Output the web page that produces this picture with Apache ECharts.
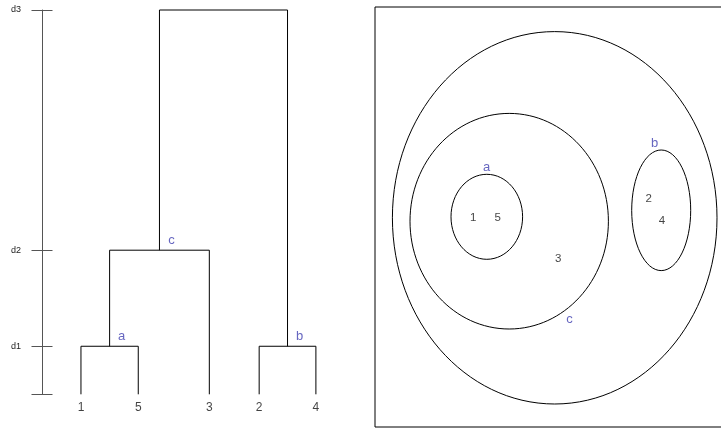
<!DOCTYPE html>
<html>
<head>
<meta charset="utf-8">
<script src="https://cdn.jsdelivr.net/npm/echarts@6/dist/echarts.min.js"></script>
<style>html,body{margin:0;padding:0;background:#fff;}#c{width:721px;height:428px;}</style>
</head>
<body>
<div id="c"></div>
<script>
// ---- Dendrogram data ----
const leafNames = ['1', '5', '3', '2', '4'];
const leafX = [1, 2, 3.24, 4.11, 5.1];
const mergeNames = ['a', 'b', 'c', 'top'];
const mergeChildren = [['1', '5'], ['2', '4'], ['a', '3'], ['c', 'b']];
const mergeHeights = [1, 1, 3, 8];
const heightTicks = [0, 1, 3, 8];
const heightLabelValues = [1, 3, 8];
const heightLabels = ['d1', 'd2', 'd3'];

// ---- Nested cluster (ellipse) data: [cx, cy, rx, ry] in panel units ----
const ellipseNames = ['outer', 'c', 'a', 'b'];
const ellipseCx = [179.7, 134.2, 111.8, 286.2];
const ellipseCy = [209.2, 205.8, 210.2, 216.7];
const ellipseRx = [162.3, 99.2, 35.8, 29.5];
const ellipseRy = [186.2, 107.8, 42.5, 60.3];
const pointNames = ['1', '5', '3', '2', '4'];
const pointX = [98.3, 122.7, 183.3, 273.7, 287];
const pointY = [208.7, 208.7, 167.7, 228, 206];
const clusterLabelNames = ['a', 'b', 'c'];
const clusterLabelX = [111.7, 279.7, 194.5];
const clusterLabelY = [259.3, 283.7, 108];

// ---- build tree node positions ----
const nodePos = {};
leafNames.forEach((n, i) => { nodePos[n] = [leafX[i], 0]; });
const segData = [];
mergeNames.forEach((n, i) => {
  const l = nodePos[mergeChildren[i][0]];
  const r = nodePos[mergeChildren[i][1]];
  const h = mergeHeights[i];
  nodePos[n] = [(l[0] + r[0]) / 2, h];
  segData.push([l[0], l[1], r[0], r[1], h]);
});
const mergeLabelData = mergeNames.filter(n => n !== 'top').map(n => ({ name: n, value: nodePos[n] }));
const leafLabelData = leafNames.map((n, i) => ({ name: n, value: [leafX[i], 0] }));

const blue = '#4040b0';
const font = 'Liberation Sans, Arial, sans-serif';

const chart = echarts.init(document.getElementById('c'), null, { renderer: 'canvas' });
chart.setOption({
  animation: false,
  backgroundColor: '#fff',
  grid: [
    { left: 42, top: 10, width: 330, bottom: 33.7, show: false, outerBoundsMode: 'none', containLabel: false },
    { left: 375, top: 7, width: 366, bottom: 1, show: true, borderColor: '#000', borderWidth: 1, backgroundColor: 'transparent', outerBoundsMode: 'none', containLabel: false }
  ],
  xAxis: [
    { type: 'value', gridIndex: 0, min: 0.32, max: 0.32 + 330 / 57.3, show: false },
    { type: 'value', gridIndex: 1, min: 0, max: 366, show: false }
  ],
  yAxis: [
    {
      type: 'value', gridIndex: 0, min: 0, max: 8, position: 'left',
      axisLine: { show: true, lineStyle: { color: '#555', width: 1 } },
      axisTick: { show: true, length: 10.5, customValues: heightTicks, lineStyle: { color: '#555', width: 1 } },
      axisLabel: {
        show: true, customValues: heightLabelValues, margin: 21, fontSize: 9, color: '#222', fontFamily: font,
        formatter: v => heightLabels[heightLabelValues.indexOf(v)] || ''
      },
      splitLine: { show: false }
    },
    {
      type: 'value', gridIndex: 0, min: 0, max: 8, position: 'left', offset: 0,
      axisLine: { show: false },
      axisTick: { show: true, inside: true, length: 10.5, customValues: heightTicks, lineStyle: { color: '#555', width: 1 } },
      axisLabel: { show: false },
      splitLine: { show: false }
    },
    { type: 'value', gridIndex: 1, min: 0, max: 420, show: false }
  ],
  series: [
    {
      type: 'custom', xAxisIndex: 0, yAxisIndex: 0, data: segData, silent: true,
      renderItem: (params, api) => {
        const p1 = api.coord([api.value(0), api.value(1)]);
        const p2 = api.coord([api.value(0), api.value(4)]);
        const p3 = api.coord([api.value(2), api.value(4)]);
        const p4 = api.coord([api.value(2), api.value(3)]);
        return { type: 'polyline', shape: { points: [p1, p2, p3, p4] }, style: { fill: null, stroke: '#000', lineWidth: 1 } };
      }
    },
    {
      type: 'scatter', xAxisIndex: 0, yAxisIndex: 0, data: mergeLabelData, symbolSize: 0, silent: true,
      label: { show: true, formatter: '{b}', position: 'inside', offset: [12, -10], color: blue, fontSize: 13, fontFamily: font }
    },
    {
      type: 'scatter', xAxisIndex: 0, yAxisIndex: 0, data: leafLabelData, symbolSize: 0, silent: true,
      label: { show: true, formatter: '{b}', position: 'inside', offset: [0, 13], color: '#111', fontSize: 12, fontFamily: font }
    },
    {
      type: 'custom', xAxisIndex: 1, yAxisIndex: 2, silent: true,
      data: ellipseNames.map((n, i) => ({ name: n, value: [ellipseCx[i], ellipseCy[i], ellipseRx[i], ellipseRy[i]] })),
      renderItem: (params, api) => {
        const c = api.coord([api.value(0), api.value(1)]);
        const s = api.size([api.value(2), api.value(3)]);
        return { type: 'ellipse', shape: { cx: c[0], cy: c[1], rx: s[0], ry: s[1] }, style: { fill: null, stroke: '#000', lineWidth: 1 } };
      }
    },
    {
      type: 'scatter', xAxisIndex: 1, yAxisIndex: 2, symbolSize: 0, silent: true,
      data: pointNames.map((n, i) => ({ name: n, value: [pointX[i], pointY[i]] })),
      label: { show: true, formatter: '{b}', position: 'inside', color: '#111', fontSize: 11.5, fontFamily: font }
    },
    {
      type: 'scatter', xAxisIndex: 1, yAxisIndex: 2, symbolSize: 0, silent: true,
      data: clusterLabelNames.map((n, i) => ({ name: n, value: [clusterLabelX[i], clusterLabelY[i]] })),
      label: { show: true, formatter: '{b}', position: 'inside', color: blue, fontSize: 13, fontFamily: font }
    }
  ]
});
</script>
</body>
</html>
